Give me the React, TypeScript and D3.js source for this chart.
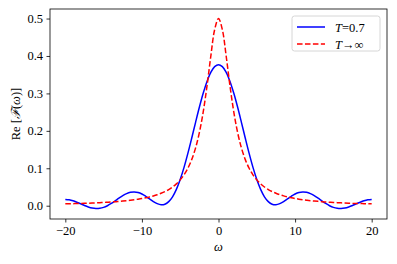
import React, { useEffect, useRef } from 'react';
import * as d3 from 'd3';

// frequency grid (ω), read every 0.5 from the picture
const omega: number[] = d3.range(-20, 20.25, 0.5);

// T = 0.7 (blue, solid), values for ω = -20 ... 20
const finiteT: number[] = [
  0.0169, 0.0157, 0.0131, 0.0094, 0.0051, 0.0006, -0.0033, -0.0062, -0.0076, -0.0070,
  -0.0045, 0.0000, 0.0060, 0.0129, 0.0202, 0.0269, 0.0323, 0.0358, 0.0368, 0.0353,
  0.0312, 0.0252, 0.0182, 0.0111, 0.0055, 0.0026, 0.0040, 0.0108, 0.0238, 0.0436,
  0.0700, 0.1024, 0.1398, 0.1803, 0.2221, 0.2629, 0.3003, 0.3321, 0.3563, 0.3715,
  0.3767,
  0.3715, 0.3563, 0.3321, 0.3003, 0.2629, 0.2221, 0.1803, 0.1398, 0.1024, 0.0700,
  0.0436, 0.0238, 0.0108, 0.0040, 0.0026, 0.0055, 0.0111, 0.0182, 0.0252, 0.0312,
  0.0353, 0.0368, 0.0358, 0.0323, 0.0269, 0.0202, 0.0129, 0.0060, 0.0000, -0.0045,
  -0.0070, -0.0076, -0.0062, -0.0033, 0.0006, 0.0051, 0.0094, 0.0131, 0.0157, 0.0169,
];

// T → ∞ (red, dashed)
const infiniteT: number[] = [
  0.0050, 0.0052, 0.0055, 0.0058, 0.0061, 0.0064, 0.0068, 0.0072, 0.0077, 0.0082,
  0.0087, 0.0093, 0.0100, 0.0107, 0.0116, 0.0125, 0.0135, 0.0147, 0.0160, 0.0175,
  0.0192, 0.0212, 0.0235, 0.0262, 0.0294, 0.0332, 0.0377, 0.0432, 0.0500, 0.0584,
  0.0690, 0.0825, 0.1000, 0.1231, 0.1538, 0.1951, 0.2500, 0.3200, 0.4000, 0.4706,
  0.5000,
  0.4706, 0.4000, 0.3200, 0.2500, 0.1951, 0.1538, 0.1231, 0.1000, 0.0825, 0.0690,
  0.0584, 0.0500, 0.0432, 0.0377, 0.0332, 0.0294, 0.0262, 0.0235, 0.0212, 0.0192,
  0.0175, 0.0160, 0.0147, 0.0135, 0.0125, 0.0116, 0.0107, 0.0100, 0.0093, 0.0087,
  0.0082, 0.0077, 0.0072, 0.0068, 0.0064, 0.0061, 0.0058, 0.0055, 0.0052, 0.0050,
];

const xTicks = [-20, -10, 0, 10, 20];
const yTicks = [0.0, 0.1, 0.2, 0.3, 0.4, 0.5];

const W = 397;
const H = 264;
const FONT = "'Liberation Serif', 'Times New Roman', Times, 'DejaVu Serif', serif";

const App: React.FC = () => {
  const svgRef = useRef<SVGSVGElement>(null);

  useEffect(() => {
    if (!svgRef.current) return;
    const svg = d3.select(svgRef.current);
    svg.selectAll('*').remove();

    const left = 50, right = 387, top = 9, bottom = 219;

    const x = d3.scaleLinear().domain([-22, 22]).range([left, right]);
    const y = d3.scaleLinear().domain([-0.0355, 0.5255]).range([bottom, top]);

    const g = svg.append('g').style('font-family', FONT);

    // x axis
    const xAxis = g.append('g')
      .attr('transform', `translate(0,${bottom})`)
      .call(d3.axisBottom(x).tickValues(xTicks).tickSize(3.5).tickPadding(3.5)
        .tickFormat(d => { const v = +d; return v < 0 ? `\u2212${-v}` : `${v}`; }));
    xAxis.attr('font-family', null).attr('font-size', null);
    xAxis.select('.domain').remove();
    xAxis.selectAll('line').attr('stroke', '#000').attr('stroke-width', 0.8);
    xAxis.selectAll('text').style('font-family', FONT).style('font-size', '12.5px').attr('fill', '#000');

    // y axis
    const yAxis = g.append('g')
      .attr('transform', `translate(${left},0)`)
      .call(d3.axisLeft(y).tickValues(yTicks).tickSize(3.5).tickPadding(3.5)
        .tickFormat(d3.format('.1f')));
    yAxis.attr('font-family', null).attr('font-size', null);
    yAxis.select('.domain').remove();
    yAxis.selectAll('line').attr('stroke', '#000').attr('stroke-width', 0.8);
    yAxis.selectAll('text').style('font-family', FONT).style('font-size', '12.5px').attr('fill', '#000');

    // clip
    svg.append('defs').append('clipPath').attr('id', 'plot-clip')
      .append('rect').attr('x', left).attr('y', top)
      .attr('width', right - left).attr('height', bottom - top);

    const line = (vals: number[]) => d3.line<number>()
      .x((_, i) => x(omega[i]))
      .y(v => y(v))
      .curve(d3.curveCatmullRom.alpha(0.5))(vals);

    const plot = g.append('g').attr('clip-path', 'url(#plot-clip)');
    plot.append('path')
      .attr('d', line(finiteT))
      .attr('fill', 'none')
      .attr('stroke', '#0000ff')
      .attr('stroke-width', 1.5);
    plot.append('path')
      .attr('d', line(infiniteT))
      .attr('fill', 'none')
      .attr('stroke', '#ff0000')
      .attr('stroke-width', 1.5)
      .attr('stroke-dasharray', '5.55,2.4');

    // frame
    g.append('rect')
      .attr('x', left).attr('y', top)
      .attr('width', right - left).attr('height', bottom - top)
      .attr('fill', 'none').attr('stroke', '#000').attr('stroke-width', 0.8);

    // axis labels
    g.append('text')
      .attr('x', (left + right) / 2).attr('y', 251)
      .attr('text-anchor', 'middle')
      .style('font-family', FONT).style('font-size', '12.5px').style('font-style', 'italic')
      .text('ω');

    const yl = g.append('text')
      .attr('transform', `translate(20,${(top + bottom) / 2}) rotate(-90)`)
      .attr('text-anchor', 'middle')
      .style('font-family', FONT).style('font-size', '12.5px');
    yl.append('tspan').text('Re [');
    yl.append('tspan').style('font-style', 'italic').text('ℱ');
    yl.append('tspan').text('(');
    yl.append('tspan').style('font-style', 'italic').text('ω');
    yl.append('tspan').text(')]');

    // legend
    const lg = g.append('g');
    lg.append('rect')
      .attr('x', 292).attr('y', 16).attr('width', 88).attr('height', 35)
      .attr('rx', 2.5)
      .attr('fill', '#fff').attr('fill-opacity', 0.8)
      .attr('stroke', '#cccccc').attr('stroke-width', 0.8);

    const items = [
      { color: '#0000ff', dash: null as string | null, label: ['T', '=0.7'], yy: 27 },
      { color: '#ff0000', dash: '5.55,2.4', label: ['T', '→∞'], yy: 44 },
    ];
    items.forEach(it => {
      const l = lg.append('line')
        .attr('x1', 297).attr('x2', 325).attr('y1', it.yy).attr('y2', it.yy)
        .attr('stroke', it.color).attr('stroke-width', 1.5);
      if (it.dash) l.attr('stroke-dasharray', it.dash);
      const t = lg.append('text')
        .attr('x', 335).attr('y', it.yy + 4.5)
        .style('font-family', FONT).style('font-size', '12.5px');
      t.append('tspan').style('font-style', 'italic').text(it.label[0]);
      t.append('tspan').text(it.label[1]);
    });
  }, []);

  return (
    <div style={{ position: 'fixed', left: 0, top: 0, width: W, height: H, background: '#fff' }}>
      <svg ref={svgRef} width={W} height={H} style={{ display: 'block' }} />
    </div>
  );
};

export default App;
